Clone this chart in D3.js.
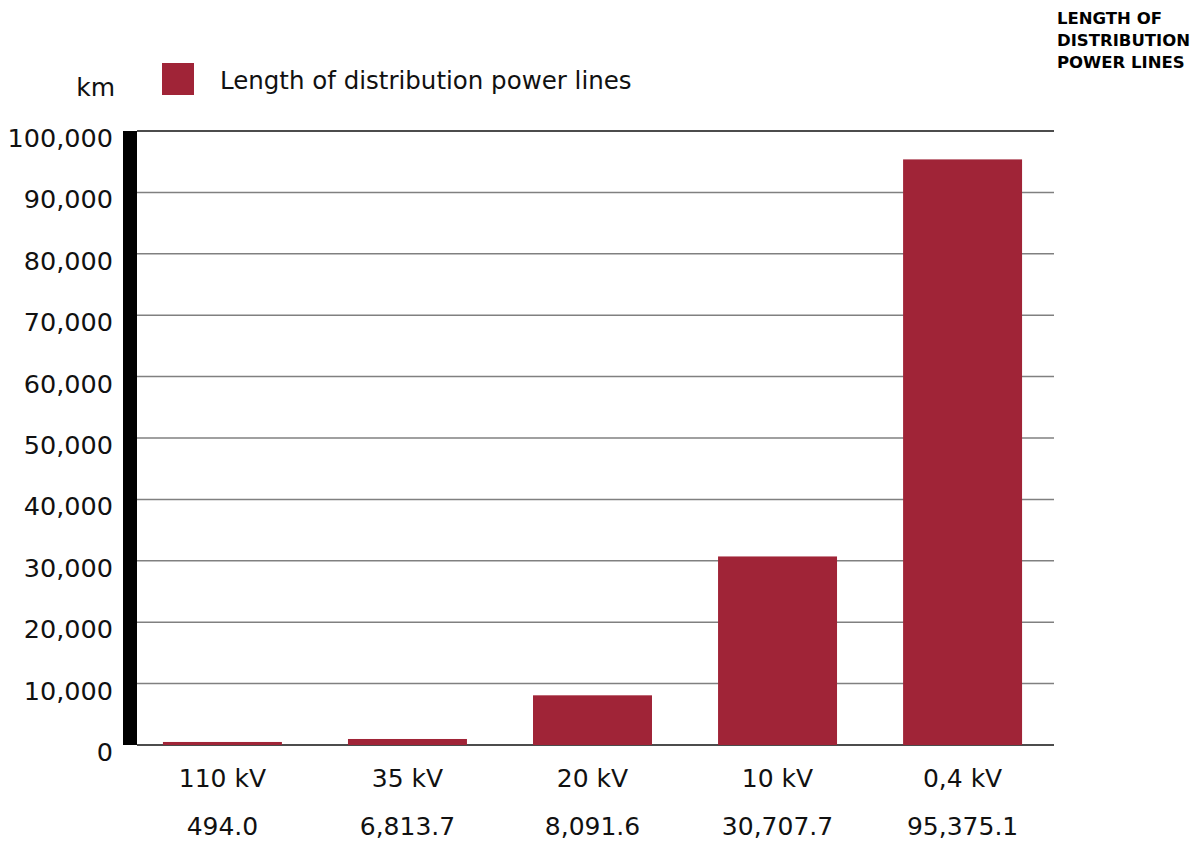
<!DOCTYPE html>
<html><head><meta charset="utf-8">
<script src="https://cdn.jsdelivr.net/npm/d3@7"></script>
<style>body{margin:0;background:#fff}svg{display:block}</style>
</head><body>
<svg id="c" width="1201" height="841"></svg>
<script>
const categories = ["110 kV", "35 kV", "20 kV", "10 kV", "0,4 kV"];
const barValues = [494.0, 980, 8091.6, 30707.7, 95375.1];
const valueLabels = ["494.0", "6,813.7", "8,091.6", "30,707.7", "95,375.1"];
const yTicks = [0, 10000, 20000, 30000, 40000, 50000, 60000, 70000, 80000, 90000, 100000];
const seriesName = "Length of distribution power lines";
const unitLabel = "km";
const titleLines = ["LENGTH OF", "DISTRIBUTION", "POWER LINES"];

const svg = d3.select("#c");
const font = "'DejaVu Sans', sans-serif";
const barColor = "#a02437";

const y = d3.scaleLinear().domain([0, 100000]).range([745, 131]);
const x = d3.scaleBand().domain(categories).range([130, 1055]).paddingInner(0.357).paddingOuter(0.178);

// gridlines
svg.append("g").selectAll("line").data(yTicks).join("line")
  .attr("x1", 137).attr("x2", 1054)
  .attr("y1", d => y(d)).attr("y2", d => y(d))
  .attr("stroke", d => (d === 0 || d === 100000) ? "#111" : "#808080")
  .attr("stroke-width", 1.5);

// left thick axis bar
svg.append("rect").attr("x", 123).attr("y", y(100000)).attr("width", 14)
  .attr("height", y(0) - y(100000)).attr("fill", "#000");

// tick labels
const fmt = d3.format(",");
svg.append("g").selectAll("text").data(yTicks).join("text")
  .attr("x", 113).attr("y", d => y(d) + 16)
  .attr("text-anchor", "end").attr("font-family", font).attr("font-size", 25.5)
  .attr("fill", "#111").text(d => fmt(d));

// bars
svg.append("g").selectAll("rect").data(barValues).join("rect")
  .attr("x", (d, i) => x(categories[i])).attr("width", x.bandwidth())
  .attr("y", d => y(d)).attr("height", d => y(0) - y(d)).attr("fill", barColor);

// x labels
svg.append("g").selectAll("text").data(categories).join("text")
  .attr("x", d => x(d) + x.bandwidth() / 2).attr("y", 787)
  .attr("text-anchor", "middle").attr("font-family", font).attr("font-size", 25)
  .attr("fill", "#111").text(d => d);
svg.append("g").selectAll("text").data(valueLabels).join("text")
  .attr("x", (d, i) => x(categories[i]) + x.bandwidth() / 2).attr("y", 835)
  .attr("text-anchor", "middle").attr("font-family", font).attr("font-size", 25)
  .attr("fill", "#111").text(d => d);

// unit + legend
svg.append("text").attr("x", 115).attr("y", 96).attr("text-anchor", "end")
  .attr("font-family", font).attr("font-size", 25).attr("fill", "#111").text(unitLabel);
svg.append("rect").attr("x", 162).attr("y", 63).attr("width", 32).attr("height", 32).attr("fill", barColor);
svg.append("text").attr("x", 220).attr("y", 89).attr("font-family", font).attr("font-size", 24.5)
  .attr("fill", "#111").text(seriesName);

// title
svg.append("g").selectAll("text").data(titleLines).join("text")
  .attr("x", 1057).attr("y", (d, i) => 24 + i * 22)
  .attr("font-family", font).attr("font-size", 16.5).attr("font-weight", "bold")
  .attr("fill", "#000").text(d => d);
</script>
</body></html>
